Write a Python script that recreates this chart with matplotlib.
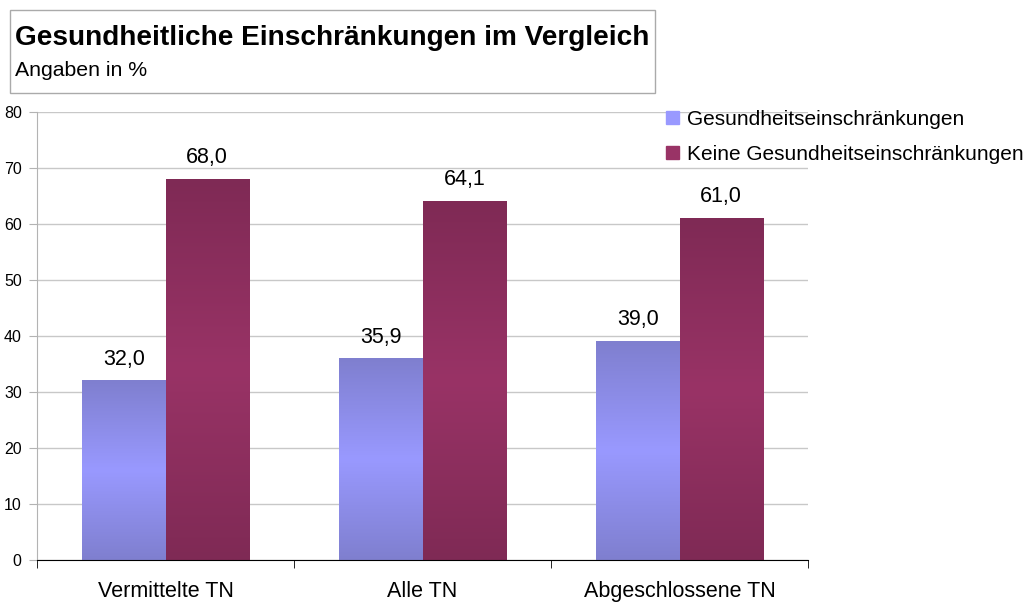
import numpy as np
import matplotlib
matplotlib.use('Agg')
import matplotlib.pyplot as plt
from matplotlib.colors import LinearSegmentedColormap
from matplotlib.patches import Rectangle

plt.rcParams['font.family'] = ['Liberation Sans', 'DejaVu Sans']

categories = ['Vermittelte TN', 'Alle TN', 'Abgeschlossene TN']
series_names = ['Gesundheitseinschränkungen', 'Keine Gesundheitseinschränkungen']
with_limits = [32.0, 35.9, 39.0]
without_limits = [68.0, 64.1, 61.0]

# dark edge / light middle colours of the gradient fill
blue_cmap = LinearSegmentedColormap.from_list('b', ['#7f7fcf', '#9999ff', '#7f7fcf'])
red_cmap = LinearSegmentedColormap.from_list('r', ['#7f2a55', '#993366', '#7f2a55'])

fig = plt.figure(figsize=(10.26, 6.03), dpi=100)
ax = fig.add_axes([37 / 1026, 1 - 560 / 603, (808 - 37) / 1026, (560 - 112) / 603])

x = np.arange(len(categories))
w = 0.325
grad = np.linspace(0, 1, 256).reshape(-1, 1)

for vals, off, cmap in [(with_limits, -w / 2, blue_cmap), (without_limits, w / 2, red_cmap)]:
    bars = ax.bar(x + off, vals, w, color='none', zorder=2)
    for b, v in zip(bars, vals):
        x0 = b.get_x()
        ax.imshow(grad, cmap=cmap, extent=[x0, x0 + w, 0, v], aspect='auto',
                  origin='lower', zorder=2)
        ax.text(x0 + w / 2, v + 2.0, f'{v:.1f}'.replace('.', ','), ha='center',
                va='bottom', fontsize=15.5)

ax.set_xlim(-0.5, len(categories) - 0.5)
ax.set_ylim(0, 80)
ax.set_yticks(range(0, 81, 10))
ax.set_xticks([0, 1, 2])
ax.set_xticklabels(categories, fontsize=15.5)
ax.set_xticks([-0.5, 0.5, 1.5, 2.5], minor=True)
ax.tick_params(axis='x', which='major', length=0, pad=15)
ax.tick_params(axis='x', which='minor', length=6, color='black')
ax.tick_params(axis='y', length=6, color='#b3b3b3', labelsize=11.5, pad=5)
ax.grid(axis='y', color='#c8c8c8', linewidth=1, zorder=0)
ax.set_axisbelow(True)
for s in ['top', 'right']:
    ax.spines[s].set_visible(False)
ax.spines['left'].set_color('#b3b3b3')
ax.spines['bottom'].set_color('black')

# title box
fig.patches.append(Rectangle((10 / 1026, 1 - 93 / 603), 645 / 1026, 83 / 603,
                             transform=fig.transFigure, fill=False,
                             edgecolor='#aaaaaa', linewidth=1))
fig.text(15 / 1026, 1 - 38 / 603, 'Gesundheitliche Einschränkungen im Vergleich',
         fontsize=20.2, fontweight='bold', va='center')
fig.text(15 / 1026, 1 - 71 / 603, 'Angaben in %', fontsize=15.3, va='center')

# legend
handles = [Rectangle((0, 0), 1, 1, color='#9999ff'), Rectangle((0, 0), 1, 1, color='#993366')]
fig.legend(handles, series_names, loc='upper left', bbox_to_anchor=(666 / 1026, 1 - 110 / 603),
           frameon=False, fontsize=15, handlelength=0.6, handleheight=0.6, borderpad=0,
           borderaxespad=0, handletextpad=0.4, labelspacing=0.75)

plt.savefig('out.png', dpi=100)
